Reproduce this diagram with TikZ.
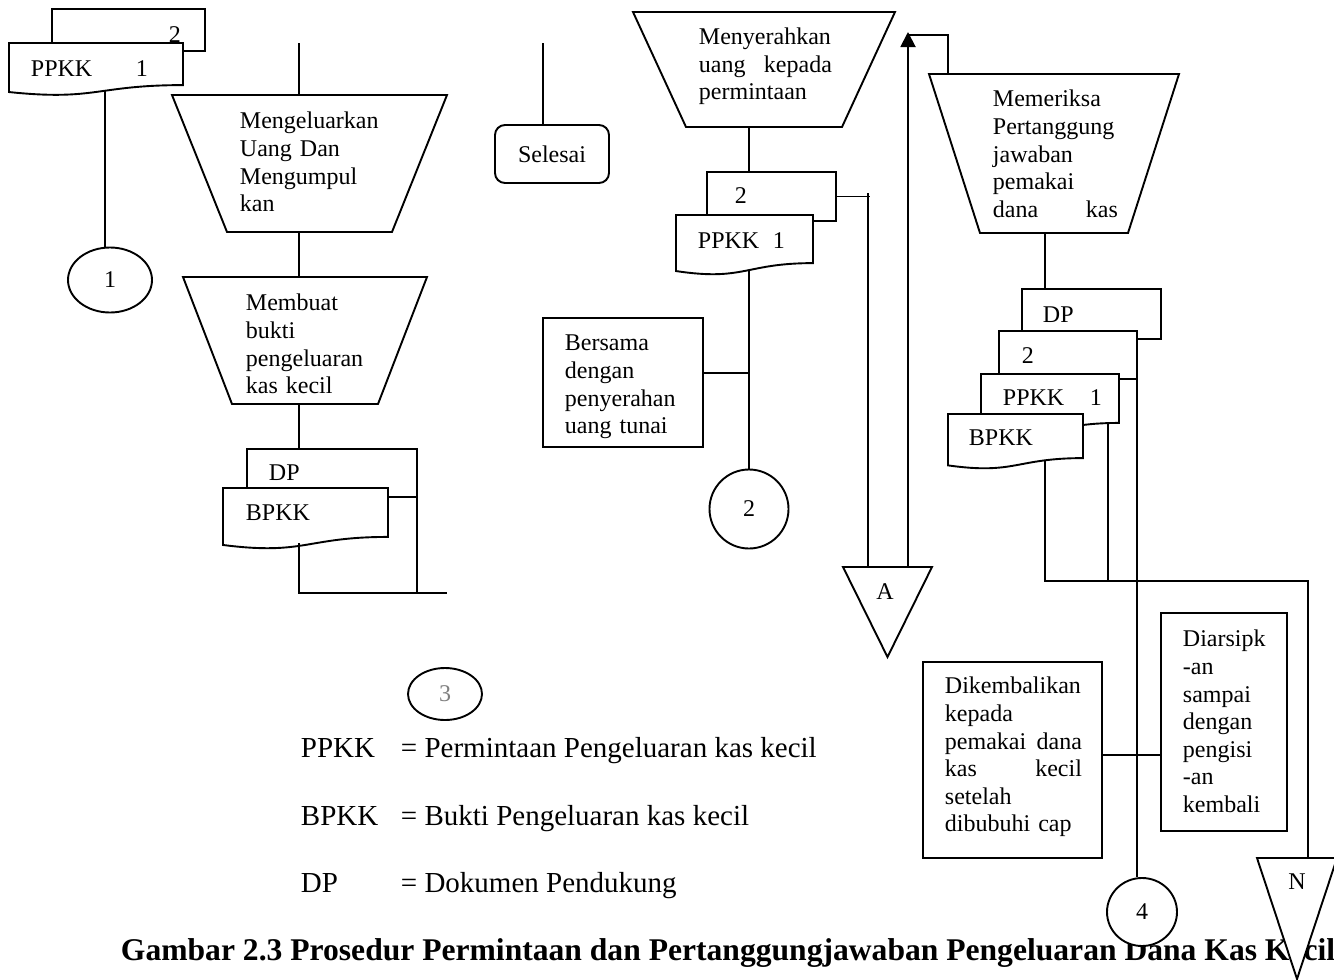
\documentclass[tikz,border=0pt]{standalone}
\usepackage{fontspec}
\setmainfont{Liberation Serif}
\usetikzlibrary{shapes.geometric,arrows.meta,calc}
\hyphenpenalty=10000
\exhyphenpenalty=10000

\tikzset{
  anchorbox/.style={inner sep=0, outer sep=0, draw=none},
  lbl/.style={anchor=base west, inner sep=0},
  blk/.style={anchor=north west, inner sep=0, align=left},
  frame/.style={draw, fill=white, inner sep=0, outer sep=0, anchor=north west},
  connector/.style={line cap=butt},
  legendfont/.style={font=\fontsize{29}{33}\selectfont},
}

% manual operation: trapezoid, wide side on top
\newcommand\opshape[6]{%
  \node[anchorbox, minimum width=#4, minimum height=#5, anchor=north west] (#1) at (#2,#3) {};
  \draw[fill=white] (#1.north west) -- (#1.north east) -- ([xshift=-#6pt]#1.south east) -- ([xshift=#6pt]#1.south west) -- cycle;
}
% document with wavy lower edge
\newcommand\docshape[5]{%
  \node[anchorbox, minimum width=#4, minimum height=#5, anchor=north west] (#1) at (#2,#3) {};
  \draw[fill=white] (#1.north west) -- (#1.north east) -- ($(#1.north east)!0.802!(#1.south east)$)
    .. controls ($(#1.north)!0.802!(#1.south)$) and ($(#1.north)!1.107!(#1.south)$) ..
    ($(#1.north west)!0.934!(#1.south west)$) -- cycle;
}
% copy sheet lying behind a document
\newcommand\sheet[5]{%
  \node[frame, minimum width=#4, minimum height=#5] (#1) at (#2,#3) {};
}

\begin{document}
\begin{tikzpicture}[x=1pt, y=-1pt, line width=1.9pt, font=\fontsize{24}{27.6}\selectfont]
\useasboundingbox (0,0) rectangle (1334,980);

% ---------- caption (lies under the off-page connectors) ----------
\node[anchor=base west, inner sep=0, font=\fontsize{31.6}{36}\selectfont\bfseries] (cap) at (120,960)
  {Gambar 2.3 Prosedur Permintaan dan Pertanggungjawaban Pengeluaran Dana Kas Kecil};

% ---------- PPKK copies, left ----------
\sheet{s1}{52}{9}{153}{42}
\docshape{d1}{9}{43}{174}{52.5}
\node[lbl] (s1t) at (168,42) {2};
\node[lbl] (d1t) at (30,76) {PPKK};
\node[lbl] (d1n) at (135,76) {1};
\node[ellipse, draw, minimum width=84, minimum height=65, inner sep=0] (c1) at (110,280) {1};

% ---------- Mengeluarkan uang ----------
\opshape{t1}{172}{95}{275}{137}{55}
\node[blk, text width=150] (t1t) at (239,108.7) {\strut Mengeluarkan\\Uang Dan\\Mengumpul\\kan};

\opshape{t2}{183}{277}{244}{127}{49}
\node[blk, text width=150] (t2t) at (245,290.7) {\strut Membuat\\bukti\\pengeluaran\\kas kecil};

\sheet{r2}{247}{449}{170}{48}
\docshape{d2}{223}{488}{165}{61}
\node[lbl] (r2t) at (268,480) {DP};
\node[lbl] (d2t) at (245,520) {BPKK};

% ---------- end ----------
\node[draw, rounded corners=10pt, minimum width=114, minimum height=58, inner sep=0] (sel) at (552,154) {Selesai};

% ---------- Menyerahkan uang ----------
\opshape{t3}{633}{12}{262}{115}{53}
\node[blk, text width=133] (t3t) at (698,24.2) {\strut Menyerahkan\\uang\hfill kepada\\permintaan};

\sheet{r3}{707}{172}{129}{49}
\docshape{d3}{676}{215}{137}{60}
\node[lbl] (r3t) at (734,203) {2};
\node[lbl] (d3t) at (697,248) {PPKK};
\node[lbl] (d3n) at (772,248) {1};

\node[frame, minimum width=160, minimum height=129] (bs) at (543,318) {};
\node[blk, text width=140] (bst) at (564,330.7) {\strut Bersama\\dengan\\penyerahan\\uang tunai};

\node[circle, draw, minimum size=79, inner sep=0] (c2) at (749,509) {2};

\node[anchorbox, minimum width=89, minimum height=90, anchor=north west] (tA) at (843,567) {};
\draw[fill=white] (tA.north west) -- (tA.north east) -- (tA.south) -- cycle;
\node[anchor=base, inner sep=0] (tAt) at (885,599) {A};

% ---------- Memeriksa pertanggungjawaban ----------
\opshape{t4}{929}{74}{250}{159}{51}
\node[blk, text width=125] (t4t) at (992,86.7) {\strut Memeriksa\\Pertanggung\\jawaban\\pemakai\\dana\hfill kas};

\sheet{r4}{1022}{289}{139}{50}
\sheet{r5}{999}{331}{138}{48}
\docshape{d4}{981}{374}{138}{61}
\docshape{d5}{948}{414}{135}{55}
\node[lbl] (r4t) at (1042,322) {DP};
\node[lbl] (r5t) at (1021,363) {2};
\node[lbl] (d4t) at (1002,405) {PPKK};
\node[lbl] (d4n) at (1089,405) {1};
\node[lbl] (d5t) at (968,445) {BPKK};

\node[frame, minimum width=179, minimum height=196] (dk) at (923,662) {};
\node[blk, text width=137] (dkt) at (944,673.7)
  {\strut Dikembalikan\\kepada\\pemakai\hfill dana\\kas\hfill kecil\\setelah\\dibubuhi cap};

\node[frame, minimum width=126, minimum height=218] (da) at (1161,613) {};
\node[blk, text width=100] (dat) at (1182,626.7)
  {\strut Diarsipk\\-an\\sampai\\dengan\\pengisi\\-an\\kembali};

\node[ellipse, draw, fill=white, minimum width=70, minimum height=68, inner sep=0] (c4) at (1142,912) {4};

\node[anchorbox, minimum width=80, minimum height=121, anchor=north west] (tN) at (1257,858) {};
\draw[fill=white] (tN.north west) -- (tN.north east) -- (tN.south) -- cycle;
\node[anchor=base, inner sep=0] (tNt) at (1297,889) {N};

% ---------- connector 3 and legend ----------
\node[ellipse, draw, minimum width=74, minimum height=52, inner sep=0, text=gray] (c3) at (445,694) {3};

\node[lbl, legendfont] (k1) at (300,757) {PPKK};
\node[lbl, legendfont] (v1) at (400,757) {= Permintaan Pengeluaran kas kecil};
\node[lbl, legendfont] (k2) at (300,825) {BPKK};
\node[lbl, legendfont] (v2) at (400,825) {= Bukti Pengeluaran kas kecil};
\node[lbl, legendfont] (k3) at (300,892) {DP};
\node[lbl, legendfont] (v3) at (400,892) {= Dokumen Pendukung};

% ---------- flow lines ----------
\coordinate (l1) at (105,0);
\draw[connector] ($(l1 |- d1.south)+(0,-6)$) -- (l1 |- c1.north);

\coordinate (in1) at (299,43);
\draw[connector] (in1) -- (in1 |- t1.north);
\draw[connector] (in1 |- t1.south) -- (in1 |- t2.north);
\draw[connector] (in1 |- t2.south) -- (in1 |- r2.north);
\coordinate (out1) at (447,593);
\draw[connector] ($(in1 |- d2.south)+(0,-6)$) -- (in1 |- out1) -- (out1);
\draw[connector] (r2.south east) -- (r2.south east |- out1);

\coordinate (in2) at (543,43);
\draw[connector] (in2) -- (in2 |- sel.north);

\coordinate (x3) at (749,0);
\draw[connector] (x3 |- t3.south) -- (x3 |- r3.north);
\draw[connector] (r3.east) -- ++(34,0);
\coordinate (a1) at (868,193);
\draw[connector] (a1) -- (a1 |- tA.north);
\draw[connector] ($(c2.north |- d3.south)+(0,-4)$) -- (c2.north);
\draw[connector] ([yshift=9.5pt]bs.east) -- ([yshift=9.5pt]bs.east -| c2.north);

\coordinate (tip) at (908,32);
\draw[connector, -{Triangle[length=15pt,width=15pt]}] (tip |- tA.north) -- (tip);
\coordinate (t4in) at (948,35);
\draw[connector] (t4in |- t4.north) -- (t4in) -- (tip |- t4in);

\coordinate (x4) at (1045,0);
\draw[connector] (x4 |- t4.south) -- (x4 |- r4.north);
\coordinate (bus) at (1308,581);
\draw[connector] ($(x4 |- d5.south)+(0,-9)$) -- (x4 |- bus) -- (bus) -- (bus |- tN.north);
\coordinate (x5) at (1108,0);
\draw[connector] ($(x5 |- d4.south)+(0,-11)$) -- (x5 |- bus);
\draw[connector] (r5.south east) -- (r5.south east |- c4.north);
\draw[connector] ([yshift=5pt]dk.east) -- ([yshift=5pt]dk.east -| da.west);
\end{tikzpicture}
\end{document}
